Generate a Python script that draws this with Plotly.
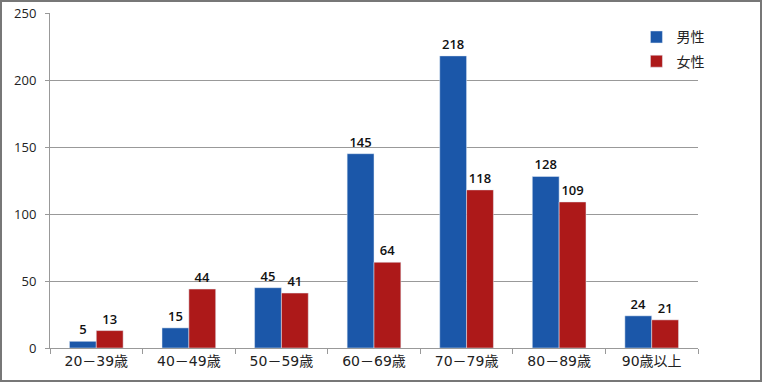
import plotly.graph_objects as go

categories = ["20－39歳", "40－49歳", "50－59歳", "60－69歳", "70－79歳", "80－89歳", "90歳以上"]
male = [5, 15, 45, 145, 218, 128, 24]
female = [13, 44, 41, 64, 118, 109, 21]

W, H = 762, 382
L, R, T, B = 50, 64, 13, 34
pw, ph = W - L - R, H - T - B

font = "Noto Sans CJK JP, Noto Sans, sans-serif"
xfont = "DejaVu Sans, Noto Sans CJK JP, sans-serif"
lab = dict(size=13, color="#111", family="Open Sans, sans-serif", weight=600)

fig = go.Figure()
fig.add_trace(go.Bar(name="男性", x=categories, y=male, marker_color="#1b57a9",
                     text=male, textposition="outside", cliponaxis=False,
                     textfont=lab, legendgroup="m"))
fig.add_trace(go.Bar(name="女性", x=categories, y=female, marker_color="#ad1919",
                     text=female, textposition="outside", cliponaxis=False,
                     textfont=lab, legendgroup="f"))

fig.update_layout(
    width=W, height=H,
    margin=dict(l=L, r=R, t=T, b=B, autoexpand=False),
    paper_bgcolor="white", plot_bgcolor="white",
    barmode="group", bargap=0.42, bargroupgap=0,
    font=dict(family=font, size=12, color="#222"),
    showlegend=True,
    legend=dict(x=0.905, y=0.975, xanchor="left", yanchor="top",
                font=dict(size=14), tracegroupgap=3, traceorder="grouped",
                itemwidth=30, bgcolor="rgba(0,0,0,0)"),
    xaxis=dict(showline=True, linecolor="#999", linewidth=1, ticks="outside",
               tickson="boundaries", ticklen=5, tickcolor="#999", automargin=False,
               tickfont=dict(size=14, color="#222", family=xfont)),
    yaxis=dict(range=[0, 250], dtick=50, showgrid=True, gridcolor="#999",
               gridwidth=1, showline=True, linecolor="#999", ticks="outside",
               ticklen=4, tickcolor="#999", zeroline=False, automargin=False,
               ticklabelstandoff=6,
               tickfont=dict(size=13, color="#222", family="Open Sans, sans-serif")),
    shapes=[dict(type="rect", xref="paper", yref="paper",
                 x0=-(L - 1) / pw, x1=1 + (R - 1) / pw,
                 y0=-(B - 1) / ph, y1=1 + (T - 1) / ph,
                 line=dict(color="#777", width=2), fillcolor="rgba(0,0,0,0)",
                 layer="above")],
)

fig.write_html("out.html", config={"displayModeBar": False},
               post_script="document.body.style.margin='0';document.body.style.overflow='hidden';")
